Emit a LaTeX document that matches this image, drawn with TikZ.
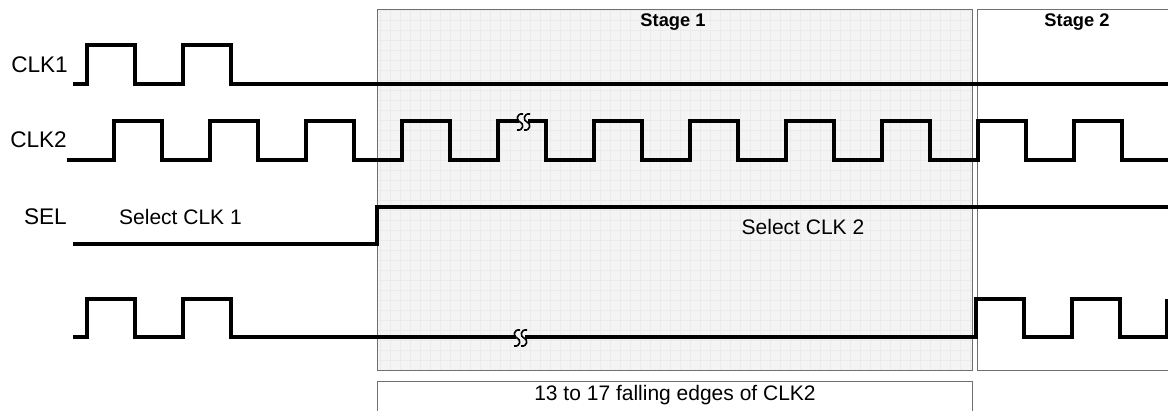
\documentclass[tikz,border=0pt]{standalone}
\usepackage{fontspec}
\setmainfont{Liberation Sans}

\definecolor{panel}{HTML}{F4F4F4}
\definecolor{gridc}{HTML}{EBEBEB}
\definecolor{edge}{HTML}{707070}

\begin{document}
\begin{tikzpicture}[x=1pt,y=-1pt,
		wave/.style={line width=3.7pt},
		stagebox/.style={draw=edge,line width=1pt},
		sig/.style={font=\fontsize{22.6}{26}\selectfont,inner sep=0pt},
		note/.style={font=\fontsize{21}{24}\selectfont,inner sep=0pt},
		head/.style={font=\fontsize{18.3}{22}\selectfont\bfseries,inner sep=0pt},
		gapmark/.pic={
			\fill[panel] (-4,-2.5) rectangle (5,2.5);
			\foreach \c in {-3,4}
				\draw[line width=1.6pt] (\c+3,-8) .. controls (\c-4,-9) and (\c-4,-1) .. (\c,0) .. controls (\c+4,1) and (\c+4,9) .. (\c-3,8);
		}]
		\useasboundingbox (0,0) rectangle (1168,411);
		% stage panels
		\filldraw[fill=panel,draw=none] (377,10) rectangle (972,371);
		\draw[gridc,line width=0.4pt,step=10pt] (377,10) grid (972,371);
		\draw[stagebox] (377,10) rectangle (972,371);
		\draw[stagebox] (977,10) rectangle (1180,371);
		\draw[stagebox] (377,382) rectangle (972,425);
		\node[head] (stage1) at (673,22) {Stage 1};
		\node[head] (stage2) at (1077,22) {Stage 2};
		\node[note] (edges) at (675,395) {13 to 17 falling edges of CLK2};
		% signal names
		\node[sig,anchor=east] (clkA) at (68,65) {CLK1};
		\node[sig,anchor=east] (clkB) at (67,140) {CLK2};
		\node[sig,anchor=east] (sel) at (67,217) {SEL};
		\node[note,anchor=west] (selA) at (119,217) {Select CLK 1};
		\node[note] (selB) at (803,227) {Select CLK 2};
		% waveforms
		\draw[wave] (73,84) -| (87,45) -| (135,84) -| (183,45) -| (231,84) -- (1168,84);
		\draw[wave] (67,160) \foreach \x in {114,210,...,1074} { -| (\x,121) -| (\x+48,160) } -- (1168,160);
		\draw[wave] (73,244) -| (377,207) -- (1168,207);
		\draw[wave] (73,337) -| (87,299) -| (135,337) -| (183,299) -| (231,337) -- (976,337)
			-| (976,299) -| (1024,337) -| (1072,299) -| (1120,337) -| (1167,299);
		\pic at (523,122) {gapmark};
		\pic at (520,338) {gapmark};
	\end{tikzpicture}
\end{document}
